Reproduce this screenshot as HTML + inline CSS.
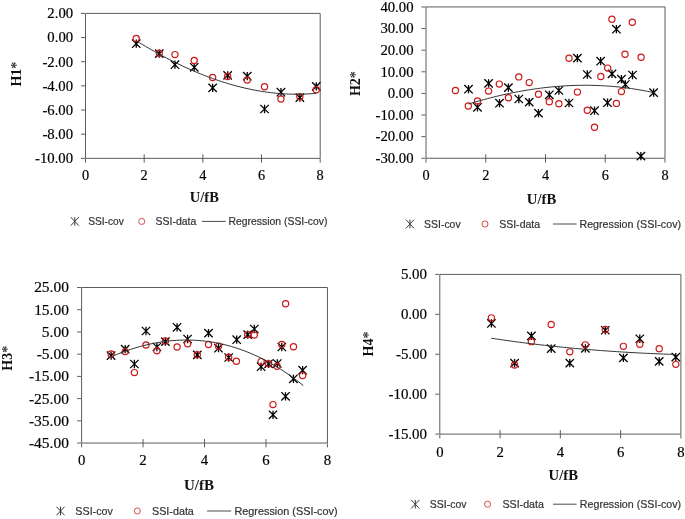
<!DOCTYPE html>
<html><head><meta charset="utf-8"><style>
html,body{margin:0;padding:0;background:#fff;}
body{width:685px;height:519px;overflow:hidden;}
svg{display:block;will-change:transform;}
.tl{font-family:"Liberation Serif",serif;fill:#000;stroke:#000;stroke-width:0.18px;}
.tt{font-family:"Liberation Serif",serif;font-weight:bold;fill:#111;}
.lg{font-family:"Liberation Sans",sans-serif;fill:#333;stroke:#333;stroke-width:0.2px;}
</style></head><body>
<svg width="685" height="519" viewBox="0 0 685 519">
<rect width="685" height="519" fill="#fff"/>
<path d="M85.5,13.4H320.2V158.35H85.5Z" stroke="#5c5c5c" stroke-width="1" fill="none"/>
<path d="M81.0,13.40H85.0" stroke="#5c5c5c" stroke-width="1"/>
<text transform="translate(73.10,18.20) scale(1.03,1)" text-anchor="end" class="tl" style="font-size:14.3px">2.00</text>
<path d="M81.0,37.56H85.0" stroke="#5c5c5c" stroke-width="1"/>
<text transform="translate(73.10,42.36) scale(1.03,1)" text-anchor="end" class="tl" style="font-size:14.3px">0.00</text>
<path d="M81.0,61.72H85.0" stroke="#5c5c5c" stroke-width="1"/>
<text transform="translate(73.10,66.52) scale(1.03,1)" text-anchor="end" class="tl" style="font-size:14.3px">-2.00</text>
<path d="M81.0,85.88H85.0" stroke="#5c5c5c" stroke-width="1"/>
<text transform="translate(73.10,90.67) scale(1.03,1)" text-anchor="end" class="tl" style="font-size:14.3px">-4.00</text>
<path d="M81.0,110.03H85.0" stroke="#5c5c5c" stroke-width="1"/>
<text transform="translate(73.10,114.83) scale(1.03,1)" text-anchor="end" class="tl" style="font-size:14.3px">-6.00</text>
<path d="M81.0,134.19H85.0" stroke="#5c5c5c" stroke-width="1"/>
<text transform="translate(73.10,138.99) scale(1.03,1)" text-anchor="end" class="tl" style="font-size:14.3px">-8.00</text>
<path d="M81.0,158.35H85.0" stroke="#5c5c5c" stroke-width="1"/>
<text transform="translate(73.10,163.15) scale(1.03,1)" text-anchor="end" class="tl" style="font-size:14.3px">-10.00</text>
<path d="M85.50,158.85V162.65" stroke="#5c5c5c" stroke-width="1"/>
<text x="85.50" y="179.85" text-anchor="middle" class="tl" style="font-size:14.3px">0</text>
<path d="M144.18,154.35V162.65" stroke="#5c5c5c" stroke-width="1"/>
<text x="144.18" y="179.85" text-anchor="middle" class="tl" style="font-size:14.3px">2</text>
<path d="M202.85,154.35V162.65" stroke="#5c5c5c" stroke-width="1"/>
<text x="202.85" y="179.85" text-anchor="middle" class="tl" style="font-size:14.3px">4</text>
<path d="M261.52,154.35V162.65" stroke="#5c5c5c" stroke-width="1"/>
<text x="261.52" y="179.85" text-anchor="middle" class="tl" style="font-size:14.3px">6</text>
<path d="M320.20,158.85V162.65" stroke="#5c5c5c" stroke-width="1"/>
<text x="320.20" y="179.85" text-anchor="middle" class="tl" style="font-size:14.3px">8</text>
<text x="204.3" y="201.5" text-anchor="middle" class="tt" style="font-size:14.5px">U/fB</text>
<text transform="translate(21.2,74.1) rotate(-90)" text-anchor="middle" class="tt" style="font-size:14px">H1<tspan style="fill:#333">*</tspan></text>
<path d="M132.05,39.55L140.45,47.85M132.05,47.85L140.45,39.55M136.25,39.55L136.25,47.85" stroke="#000" stroke-width="1.3" fill="none"/>
<path d="M155.05,49.45L163.45,57.75M155.05,57.75L163.45,49.45M159.25,49.45L159.25,57.75" stroke="#000" stroke-width="1.3" fill="none"/>
<path d="M170.75,60.55L179.15,68.85M170.75,68.85L179.15,60.55M174.95,60.55L174.95,68.85" stroke="#000" stroke-width="1.3" fill="none"/>
<path d="M190.05,63.15L198.45,71.45M190.05,71.45L198.45,63.15M194.25,63.15L194.25,71.45" stroke="#000" stroke-width="1.3" fill="none"/>
<path d="M208.45,83.75L216.85,92.05M208.45,92.05L216.85,83.75M212.65,83.75L212.65,92.05" stroke="#000" stroke-width="1.3" fill="none"/>
<path d="M223.45,71.25L231.85,79.55M223.45,79.55L231.85,71.25M227.65,71.25L227.65,79.55" stroke="#000" stroke-width="1.3" fill="none"/>
<path d="M243.05,72.05L251.45,80.35M243.05,80.35L251.45,72.05M247.25,72.05L247.25,80.35" stroke="#000" stroke-width="1.3" fill="none"/>
<path d="M260.35,104.85L268.75,113.15M260.35,113.15L268.75,104.85M264.55,104.85L264.55,113.15" stroke="#000" stroke-width="1.3" fill="none"/>
<path d="M276.75,88.05L285.15,96.35M276.75,96.35L285.15,88.05M280.95,88.05L280.95,96.35" stroke="#000" stroke-width="1.3" fill="none"/>
<path d="M295.65,93.45L304.05,101.75M295.65,101.75L304.05,93.45M299.85,93.45L299.85,101.75" stroke="#000" stroke-width="1.3" fill="none"/>
<path d="M312.05,82.25L320.45,90.55M312.05,90.55L320.45,82.25M316.25,82.25L316.25,90.55" stroke="#000" stroke-width="1.3" fill="none"/>
<circle cx="136.25" cy="38.40" r="3.1" stroke="#cc1a1a" stroke-width="1.2" fill="none"/>
<circle cx="159.25" cy="53.20" r="3.1" stroke="#cc1a1a" stroke-width="1.2" fill="none"/>
<circle cx="174.95" cy="54.60" r="3.1" stroke="#cc1a1a" stroke-width="1.2" fill="none"/>
<circle cx="194.25" cy="60.50" r="3.1" stroke="#cc1a1a" stroke-width="1.2" fill="none"/>
<circle cx="212.65" cy="77.50" r="3.1" stroke="#cc1a1a" stroke-width="1.2" fill="none"/>
<circle cx="227.65" cy="76.50" r="3.1" stroke="#cc1a1a" stroke-width="1.2" fill="none"/>
<circle cx="247.25" cy="80.00" r="3.1" stroke="#cc1a1a" stroke-width="1.2" fill="none"/>
<circle cx="264.55" cy="86.70" r="3.1" stroke="#cc1a1a" stroke-width="1.2" fill="none"/>
<circle cx="280.95" cy="99.00" r="3.1" stroke="#cc1a1a" stroke-width="1.2" fill="none"/>
<circle cx="299.85" cy="96.70" r="3.1" stroke="#cc1a1a" stroke-width="1.2" fill="none"/>
<circle cx="316.25" cy="89.80" r="3.1" stroke="#cc1a1a" stroke-width="1.2" fill="none"/>
<path d="M136.25,40.78L139.30,42.65L142.35,44.49L145.40,46.30L148.45,48.08L151.50,49.83L154.56,51.56L157.61,53.25L160.66,54.92L163.71,56.56L166.76,58.17L169.81,59.74L172.86,61.29L175.91,62.81L178.96,64.29L182.01,65.74L185.06,67.16L188.11,68.55L191.17,69.91L194.22,71.23L197.27,72.52L200.32,73.78L203.37,75.00L206.42,76.19L209.47,77.34L212.52,78.46L215.57,79.54L218.62,80.59L221.67,81.60L224.72,82.57L227.78,83.51L230.83,84.41L233.88,85.28L236.93,86.10L239.98,86.89L243.03,87.64L246.08,88.35L249.13,89.02L252.18,89.66L255.23,90.25L258.28,90.80L261.33,91.32L264.39,91.79L267.44,92.22L270.49,92.61L273.54,92.96L276.59,93.27L279.64,93.53L282.69,93.75L285.74,93.93L288.79,94.07L291.84,94.16L294.89,94.21L297.94,94.21L301.00,94.17L304.05,94.08L307.10,93.95L310.15,93.78L313.20,93.55L316.25,93.28" stroke="#333333" stroke-width="1" fill="none"/>
<path d="M70.70,217.10L78.90,225.70M70.70,225.70L78.90,217.10M74.80,217.10L74.80,225.70" stroke="#3a3a3a" stroke-width="1.0" fill="none"/>
<text x="88.15" y="225.20" class="lg" style="font-size:10.3px" textLength="35.70" lengthAdjust="spacingAndGlyphs">SSI-cov</text>
<circle cx="141.70" cy="221.40" r="3.05" stroke="#d64c4c" stroke-width="1.0" fill="none"/>
<text x="155.55" y="225.20" class="lg" style="font-size:10.3px" textLength="40.80" lengthAdjust="spacingAndGlyphs">SSI-data</text>
<path d="M202.0,221.4H225.7" stroke="#4a4a4a" stroke-width="1"/>
<text x="228.55" y="225.20" class="lg" style="font-size:10.3px" textLength="98.80" lengthAdjust="spacingAndGlyphs">Regression (SSI-cov)</text>
<path d="M426.0,6.95H665.0V158.25H426.0Z" stroke="#5c5c5c" stroke-width="1" fill="none"/>
<path d="M421.5,6.95H425.5" stroke="#5c5c5c" stroke-width="1"/>
<text transform="translate(413.50,11.75) scale(1.03,1)" text-anchor="end" class="tl" style="font-size:14.3px">40.00</text>
<path d="M421.5,28.56H425.5" stroke="#5c5c5c" stroke-width="1"/>
<text transform="translate(413.50,33.36) scale(1.03,1)" text-anchor="end" class="tl" style="font-size:14.3px">30.00</text>
<path d="M421.5,50.18H425.5" stroke="#5c5c5c" stroke-width="1"/>
<text transform="translate(413.50,54.98) scale(1.03,1)" text-anchor="end" class="tl" style="font-size:14.3px">20.00</text>
<path d="M421.5,71.79H425.5" stroke="#5c5c5c" stroke-width="1"/>
<text transform="translate(413.50,76.59) scale(1.03,1)" text-anchor="end" class="tl" style="font-size:14.3px">10.00</text>
<path d="M421.5,93.41H425.5" stroke="#5c5c5c" stroke-width="1"/>
<text transform="translate(413.50,98.21) scale(1.03,1)" text-anchor="end" class="tl" style="font-size:14.3px">0.00</text>
<path d="M421.5,115.02H425.5" stroke="#5c5c5c" stroke-width="1"/>
<text transform="translate(413.50,119.82) scale(1.03,1)" text-anchor="end" class="tl" style="font-size:14.3px">-10.00</text>
<path d="M421.5,136.64H425.5" stroke="#5c5c5c" stroke-width="1"/>
<text transform="translate(413.50,141.44) scale(1.03,1)" text-anchor="end" class="tl" style="font-size:14.3px">-20.00</text>
<path d="M421.5,158.25H425.5" stroke="#5c5c5c" stroke-width="1"/>
<text transform="translate(413.50,163.05) scale(1.03,1)" text-anchor="end" class="tl" style="font-size:14.3px">-30.00</text>
<path d="M426.00,158.75V162.55" stroke="#5c5c5c" stroke-width="1"/>
<text x="426.00" y="179.65" text-anchor="middle" class="tl" style="font-size:14.3px">0</text>
<path d="M485.75,154.25V162.55" stroke="#5c5c5c" stroke-width="1"/>
<text x="485.75" y="179.65" text-anchor="middle" class="tl" style="font-size:14.3px">2</text>
<path d="M545.50,154.25V162.55" stroke="#5c5c5c" stroke-width="1"/>
<text x="545.50" y="179.65" text-anchor="middle" class="tl" style="font-size:14.3px">4</text>
<path d="M605.25,154.25V162.55" stroke="#5c5c5c" stroke-width="1"/>
<text x="605.25" y="179.65" text-anchor="middle" class="tl" style="font-size:14.3px">6</text>
<path d="M665.00,158.75V162.55" stroke="#5c5c5c" stroke-width="1"/>
<text x="665.00" y="179.65" text-anchor="middle" class="tl" style="font-size:14.3px">8</text>
<text x="541.5" y="203.5" text-anchor="middle" class="tt" style="font-size:14.7px">U/fB</text>
<text transform="translate(359.5,83.6) rotate(-90)" text-anchor="middle" class="tt" style="font-size:14px">H2<tspan style="fill:#333">*</tspan></text>
<path d="M464.30,85.05L472.70,93.35M464.30,93.35L472.70,85.05M468.50,85.05L468.50,93.35" stroke="#000" stroke-width="1.3" fill="none"/>
<path d="M473.30,103.15L481.70,111.45M473.30,111.45L481.70,103.15M477.50,103.15L477.50,111.45" stroke="#000" stroke-width="1.3" fill="none"/>
<path d="M484.40,79.25L492.80,87.55M484.40,87.55L492.80,79.25M488.60,79.25L488.60,87.55" stroke="#000" stroke-width="1.3" fill="none"/>
<path d="M495.30,99.05L503.70,107.35M495.30,107.35L503.70,99.05M499.50,99.05L499.50,107.35" stroke="#000" stroke-width="1.3" fill="none"/>
<path d="M504.20,83.45L512.60,91.75M504.20,91.75L512.60,83.45M508.40,83.45L508.40,91.75" stroke="#000" stroke-width="1.3" fill="none"/>
<path d="M514.60,94.85L523.00,103.15M514.60,103.15L523.00,94.85M518.80,94.85L518.80,103.15" stroke="#000" stroke-width="1.3" fill="none"/>
<path d="M525.00,97.95L533.40,106.25M525.00,106.25L533.40,97.95M529.20,97.95L529.20,106.25" stroke="#000" stroke-width="1.3" fill="none"/>
<path d="M534.30,108.95L542.70,117.25M534.30,117.25L542.70,108.95M538.50,108.95L538.50,117.25" stroke="#000" stroke-width="1.3" fill="none"/>
<path d="M545.10,90.65L553.50,98.95M545.10,98.95L553.50,90.65M549.30,90.65L549.30,98.95" stroke="#000" stroke-width="1.3" fill="none"/>
<path d="M554.70,86.35L563.10,94.65M554.70,94.65L563.10,86.35M558.90,86.35L558.90,94.65" stroke="#000" stroke-width="1.3" fill="none"/>
<path d="M564.80,98.85L573.20,107.15M564.80,107.15L573.20,98.85M569.00,98.85L569.00,107.15" stroke="#000" stroke-width="1.3" fill="none"/>
<path d="M573.20,53.95L581.60,62.25M573.20,62.25L581.60,53.95M577.40,53.95L577.40,62.25" stroke="#000" stroke-width="1.3" fill="none"/>
<path d="M583.10,70.35L591.50,78.65M583.10,78.65L591.50,70.35M587.30,70.35L587.30,78.65" stroke="#000" stroke-width="1.3" fill="none"/>
<path d="M590.30,106.55L598.70,114.85M590.30,114.85L598.70,106.55M594.50,106.55L594.50,114.85" stroke="#000" stroke-width="1.3" fill="none"/>
<path d="M596.40,57.05L604.80,65.35M596.40,65.35L604.80,57.05M600.60,57.05L600.60,65.35" stroke="#000" stroke-width="1.3" fill="none"/>
<path d="M603.30,98.55L611.70,106.85M603.30,106.85L611.70,98.55M607.50,98.55L607.50,106.85" stroke="#000" stroke-width="1.3" fill="none"/>
<path d="M607.80,69.75L616.20,78.05M607.80,78.05L616.20,69.75M612.00,69.75L612.00,78.05" stroke="#000" stroke-width="1.3" fill="none"/>
<path d="M612.20,25.05L620.60,33.35M612.20,33.35L620.60,25.05M616.40,25.05L616.40,33.35" stroke="#000" stroke-width="1.3" fill="none"/>
<path d="M617.20,75.05L625.60,83.35M617.20,83.35L625.60,75.05M621.40,75.05L621.40,83.35" stroke="#000" stroke-width="1.3" fill="none"/>
<path d="M621.10,80.35L629.50,88.65M621.10,88.65L629.50,80.35M625.30,80.35L625.30,88.65" stroke="#000" stroke-width="1.3" fill="none"/>
<path d="M628.30,70.85L636.70,79.15M628.30,79.15L636.70,70.85M632.50,70.85L632.50,79.15" stroke="#000" stroke-width="1.3" fill="none"/>
<path d="M636.70,151.95L645.10,160.25M636.70,160.25L645.10,151.95M640.90,151.95L640.90,160.25" stroke="#000" stroke-width="1.3" fill="none"/>
<path d="M649.40,88.45L657.80,96.75M649.40,96.75L657.80,88.45M653.60,88.45L653.60,96.75" stroke="#000" stroke-width="1.3" fill="none"/>
<circle cx="455.40" cy="90.50" r="3.1" stroke="#cc1a1a" stroke-width="1.2" fill="none"/>
<circle cx="468.30" cy="106.00" r="3.1" stroke="#cc1a1a" stroke-width="1.2" fill="none"/>
<circle cx="477.50" cy="101.00" r="3.1" stroke="#cc1a1a" stroke-width="1.2" fill="none"/>
<circle cx="488.60" cy="91.10" r="3.1" stroke="#cc1a1a" stroke-width="1.2" fill="none"/>
<circle cx="499.30" cy="84.10" r="3.1" stroke="#cc1a1a" stroke-width="1.2" fill="none"/>
<circle cx="508.40" cy="97.70" r="3.1" stroke="#cc1a1a" stroke-width="1.2" fill="none"/>
<circle cx="518.80" cy="76.90" r="3.1" stroke="#cc1a1a" stroke-width="1.2" fill="none"/>
<circle cx="529.20" cy="82.60" r="3.1" stroke="#cc1a1a" stroke-width="1.2" fill="none"/>
<circle cx="538.50" cy="94.20" r="3.1" stroke="#cc1a1a" stroke-width="1.2" fill="none"/>
<circle cx="549.30" cy="101.80" r="3.1" stroke="#cc1a1a" stroke-width="1.2" fill="none"/>
<circle cx="558.90" cy="103.80" r="3.1" stroke="#cc1a1a" stroke-width="1.2" fill="none"/>
<circle cx="569.00" cy="58.30" r="3.1" stroke="#cc1a1a" stroke-width="1.2" fill="none"/>
<circle cx="577.40" cy="92.10" r="3.1" stroke="#cc1a1a" stroke-width="1.2" fill="none"/>
<circle cx="587.30" cy="110.20" r="3.1" stroke="#cc1a1a" stroke-width="1.2" fill="none"/>
<circle cx="594.50" cy="127.30" r="3.1" stroke="#cc1a1a" stroke-width="1.2" fill="none"/>
<circle cx="600.80" cy="76.50" r="3.1" stroke="#cc1a1a" stroke-width="1.2" fill="none"/>
<circle cx="607.70" cy="68.10" r="3.1" stroke="#cc1a1a" stroke-width="1.2" fill="none"/>
<circle cx="611.90" cy="19.30" r="3.1" stroke="#cc1a1a" stroke-width="1.2" fill="none"/>
<circle cx="616.40" cy="103.40" r="3.1" stroke="#cc1a1a" stroke-width="1.2" fill="none"/>
<circle cx="621.40" cy="91.60" r="3.1" stroke="#cc1a1a" stroke-width="1.2" fill="none"/>
<circle cx="625.00" cy="54.20" r="3.1" stroke="#cc1a1a" stroke-width="1.2" fill="none"/>
<circle cx="632.30" cy="22.20" r="3.1" stroke="#cc1a1a" stroke-width="1.2" fill="none"/>
<circle cx="641.10" cy="57.30" r="3.1" stroke="#cc1a1a" stroke-width="1.2" fill="none"/>
<path d="M468.50,104.01L471.64,103.06L474.77,102.13L477.91,101.23L481.05,100.34L484.19,99.48L487.32,98.65L490.46,97.83L493.60,97.05L496.74,96.28L499.87,95.54L503.01,94.82L506.15,94.13L509.28,93.46L512.42,92.81L515.56,92.19L518.70,91.60L521.83,91.03L524.97,90.49L528.11,89.97L531.25,89.48L534.38,89.01L537.52,88.57L540.66,88.16L543.79,87.78L546.93,87.42L550.07,87.08L553.21,86.78L556.34,86.50L559.48,86.25L562.62,86.03L565.76,85.84L568.89,85.67L572.03,85.54L575.17,85.43L578.31,85.35L581.44,85.30L584.58,85.28L587.72,85.29L590.85,85.32L593.99,85.39L597.13,85.49L600.27,85.62L603.40,85.78L606.54,85.97L609.68,86.19L612.82,86.44L615.95,86.72L619.09,87.04L622.23,87.38L625.36,87.76L628.50,88.17L631.64,88.62L634.78,89.09L637.91,89.60L641.05,90.14L644.19,90.71L647.33,91.32L650.46,91.96L653.60,92.63" stroke="#333333" stroke-width="1" fill="none"/>
<path d="M405.90,219.70L414.10,228.30M405.90,228.30L414.10,219.70M410.00,219.70L410.00,228.30" stroke="#3a3a3a" stroke-width="1.0" fill="none"/>
<text x="424.05" y="227.80" class="lg" style="font-size:10.5px" textLength="36.60" lengthAdjust="spacingAndGlyphs">SSI-cov</text>
<circle cx="485.00" cy="224.00" r="3.05" stroke="#d64c4c" stroke-width="1.0" fill="none"/>
<text x="499.15" y="227.80" class="lg" style="font-size:10.5px" textLength="41.00" lengthAdjust="spacingAndGlyphs">SSI-data</text>
<path d="M553.0,224.0H576.6" stroke="#4a4a4a" stroke-width="1"/>
<text x="579.45" y="227.80" class="lg" style="font-size:10.5px" textLength="101.60" lengthAdjust="spacingAndGlyphs">Regression (SSI-cov)</text>
<path d="M81.6,287.5H327.45V443.05H81.6Z" stroke="#5c5c5c" stroke-width="1" fill="none"/>
<path d="M77.1,287.50H81.1" stroke="#5c5c5c" stroke-width="1"/>
<text transform="translate(68.90,292.40) scale(1.045,1)" text-anchor="end" class="tl" style="font-size:14.8px">25.00</text>
<path d="M77.1,309.72H81.1" stroke="#5c5c5c" stroke-width="1"/>
<text transform="translate(68.90,314.62) scale(1.045,1)" text-anchor="end" class="tl" style="font-size:14.8px">15.00</text>
<path d="M77.1,331.94H81.1" stroke="#5c5c5c" stroke-width="1"/>
<text transform="translate(68.90,336.84) scale(1.045,1)" text-anchor="end" class="tl" style="font-size:14.8px">5.00</text>
<path d="M77.1,354.16H81.1" stroke="#5c5c5c" stroke-width="1"/>
<text transform="translate(68.90,359.06) scale(1.045,1)" text-anchor="end" class="tl" style="font-size:14.8px">-5.00</text>
<path d="M77.1,376.39H81.1" stroke="#5c5c5c" stroke-width="1"/>
<text transform="translate(68.90,381.29) scale(1.045,1)" text-anchor="end" class="tl" style="font-size:14.8px">-15.00</text>
<path d="M77.1,398.61H81.1" stroke="#5c5c5c" stroke-width="1"/>
<text transform="translate(68.90,403.51) scale(1.045,1)" text-anchor="end" class="tl" style="font-size:14.8px">-25.00</text>
<path d="M77.1,420.83H81.1" stroke="#5c5c5c" stroke-width="1"/>
<text transform="translate(68.90,425.73) scale(1.045,1)" text-anchor="end" class="tl" style="font-size:14.8px">-35.00</text>
<path d="M77.1,443.05H81.1" stroke="#5c5c5c" stroke-width="1"/>
<text transform="translate(68.90,447.95) scale(1.045,1)" text-anchor="end" class="tl" style="font-size:14.8px">-45.00</text>
<path d="M81.60,443.55V447.35" stroke="#5c5c5c" stroke-width="1"/>
<text x="81.60" y="465.35" text-anchor="middle" class="tl" style="font-size:14.8px">0</text>
<path d="M143.06,439.05V447.35" stroke="#5c5c5c" stroke-width="1"/>
<text x="143.06" y="465.35" text-anchor="middle" class="tl" style="font-size:14.8px">2</text>
<path d="M204.52,439.05V447.35" stroke="#5c5c5c" stroke-width="1"/>
<text x="204.52" y="465.35" text-anchor="middle" class="tl" style="font-size:14.8px">4</text>
<path d="M265.99,439.05V447.35" stroke="#5c5c5c" stroke-width="1"/>
<text x="265.99" y="465.35" text-anchor="middle" class="tl" style="font-size:14.8px">6</text>
<path d="M327.45,443.55V447.35" stroke="#5c5c5c" stroke-width="1"/>
<text x="327.45" y="465.35" text-anchor="middle" class="tl" style="font-size:14.8px">8</text>
<text x="199.0" y="489.5" text-anchor="middle" class="tt" style="font-size:15px">U/fB</text>
<text transform="translate(11.8,358.3) rotate(-90)" text-anchor="middle" class="tt" style="font-size:14px">H3<tspan style="fill:#333">*</tspan></text>
<path d="M106.90,351.45L115.30,359.75M106.90,359.75L115.30,351.45M111.10,351.45L111.10,359.75" stroke="#000" stroke-width="1.3" fill="none"/>
<path d="M121.00,344.95L129.40,353.25M121.00,353.25L129.40,344.95M125.20,344.95L125.20,353.25" stroke="#000" stroke-width="1.3" fill="none"/>
<path d="M130.20,359.85L138.60,368.15M130.20,368.15L138.60,359.85M134.40,359.85L134.40,368.15" stroke="#000" stroke-width="1.3" fill="none"/>
<path d="M141.80,326.85L150.20,335.15M141.80,335.15L150.20,326.85M146.00,326.85L146.00,335.15" stroke="#000" stroke-width="1.3" fill="none"/>
<path d="M152.70,342.85L161.10,351.15M152.70,351.15L161.10,342.85M156.90,342.85L156.90,351.15" stroke="#000" stroke-width="1.3" fill="none"/>
<path d="M161.20,337.45L169.60,345.75M161.20,345.75L169.60,337.45M165.40,337.45L165.40,345.75" stroke="#000" stroke-width="1.3" fill="none"/>
<path d="M172.90,323.15L181.30,331.45M172.90,331.45L181.30,323.15M177.10,323.15L177.10,331.45" stroke="#000" stroke-width="1.3" fill="none"/>
<path d="M183.40,334.85L191.80,343.15M183.40,343.15L191.80,334.85M187.60,334.85L187.60,343.15" stroke="#000" stroke-width="1.3" fill="none"/>
<path d="M193.10,350.75L201.50,359.05M193.10,359.05L201.50,350.75M197.30,350.75L197.30,359.05" stroke="#000" stroke-width="1.3" fill="none"/>
<path d="M204.30,328.95L212.70,337.25M204.30,337.25L212.70,328.95M208.50,328.95L208.50,337.25" stroke="#000" stroke-width="1.3" fill="none"/>
<path d="M214.30,344.05L222.70,352.35M214.30,352.35L222.70,344.05M218.50,344.05L218.50,352.35" stroke="#000" stroke-width="1.3" fill="none"/>
<path d="M224.50,353.35L232.90,361.65M224.50,361.65L232.90,353.35M228.70,353.35L228.70,361.65" stroke="#000" stroke-width="1.3" fill="none"/>
<path d="M232.50,335.55L240.90,343.85M232.50,343.85L240.90,335.55M236.70,335.55L236.70,343.85" stroke="#000" stroke-width="1.3" fill="none"/>
<path d="M243.50,330.45L251.90,338.75M243.50,338.75L251.90,330.45M247.70,330.45L247.70,338.75" stroke="#000" stroke-width="1.3" fill="none"/>
<path d="M250.10,324.85L258.50,333.15M250.10,333.15L258.50,324.85M254.30,324.85L254.30,333.15" stroke="#000" stroke-width="1.3" fill="none"/>
<path d="M256.90,362.55L265.30,370.85M256.90,370.85L265.30,362.55M261.10,362.55L261.10,370.85" stroke="#000" stroke-width="1.3" fill="none"/>
<path d="M264.40,359.65L272.80,367.95M264.40,367.95L272.80,359.65M268.60,359.65L268.60,367.95" stroke="#000" stroke-width="1.3" fill="none"/>
<path d="M273.10,359.35L281.50,367.65M273.10,367.65L281.50,359.35M277.30,359.35L277.30,367.65" stroke="#000" stroke-width="1.3" fill="none"/>
<path d="M277.60,342.85L286.00,351.15M277.60,351.15L286.00,342.85M281.80,342.85L281.80,351.15" stroke="#000" stroke-width="1.3" fill="none"/>
<path d="M281.30,392.15L289.70,400.45M281.30,400.45L289.70,392.15M285.50,392.15L285.50,400.45" stroke="#000" stroke-width="1.3" fill="none"/>
<path d="M268.80,410.65L277.20,418.95M268.80,418.95L277.20,410.65M273.00,410.65L273.00,418.95" stroke="#000" stroke-width="1.3" fill="none"/>
<path d="M289.20,374.65L297.60,382.95M289.20,382.95L297.60,374.65M293.40,374.65L293.40,382.95" stroke="#000" stroke-width="1.3" fill="none"/>
<path d="M298.40,366.05L306.80,374.35M298.40,374.35L306.80,366.05M302.60,366.05L302.60,374.35" stroke="#000" stroke-width="1.3" fill="none"/>
<circle cx="111.10" cy="354.00" r="3.1" stroke="#cc1a1a" stroke-width="1.2" fill="none"/>
<circle cx="125.20" cy="351.60" r="3.1" stroke="#cc1a1a" stroke-width="1.2" fill="none"/>
<circle cx="134.40" cy="372.60" r="3.1" stroke="#cc1a1a" stroke-width="1.2" fill="none"/>
<circle cx="146.00" cy="345.00" r="3.1" stroke="#cc1a1a" stroke-width="1.2" fill="none"/>
<circle cx="156.90" cy="350.70" r="3.1" stroke="#cc1a1a" stroke-width="1.2" fill="none"/>
<circle cx="165.40" cy="340.90" r="3.1" stroke="#cc1a1a" stroke-width="1.2" fill="none"/>
<circle cx="177.10" cy="347.00" r="3.1" stroke="#cc1a1a" stroke-width="1.2" fill="none"/>
<circle cx="187.60" cy="343.80" r="3.1" stroke="#cc1a1a" stroke-width="1.2" fill="none"/>
<circle cx="197.30" cy="354.70" r="3.1" stroke="#cc1a1a" stroke-width="1.2" fill="none"/>
<circle cx="208.50" cy="344.50" r="3.1" stroke="#cc1a1a" stroke-width="1.2" fill="none"/>
<circle cx="218.50" cy="346.30" r="3.1" stroke="#cc1a1a" stroke-width="1.2" fill="none"/>
<circle cx="228.70" cy="357.20" r="3.1" stroke="#cc1a1a" stroke-width="1.2" fill="none"/>
<circle cx="236.40" cy="361.20" r="3.1" stroke="#cc1a1a" stroke-width="1.2" fill="none"/>
<circle cx="247.70" cy="334.60" r="3.1" stroke="#cc1a1a" stroke-width="1.2" fill="none"/>
<circle cx="254.30" cy="335.00" r="3.1" stroke="#cc1a1a" stroke-width="1.2" fill="none"/>
<circle cx="261.10" cy="361.60" r="3.1" stroke="#cc1a1a" stroke-width="1.2" fill="none"/>
<circle cx="268.60" cy="363.80" r="3.1" stroke="#cc1a1a" stroke-width="1.2" fill="none"/>
<circle cx="277.10" cy="366.30" r="3.1" stroke="#cc1a1a" stroke-width="1.2" fill="none"/>
<circle cx="281.80" cy="344.40" r="3.1" stroke="#cc1a1a" stroke-width="1.2" fill="none"/>
<circle cx="285.60" cy="303.80" r="3.1" stroke="#cc1a1a" stroke-width="1.2" fill="none"/>
<circle cx="273.00" cy="404.60" r="3.1" stroke="#cc1a1a" stroke-width="1.2" fill="none"/>
<circle cx="293.50" cy="346.80" r="3.1" stroke="#cc1a1a" stroke-width="1.2" fill="none"/>
<circle cx="302.60" cy="375.60" r="3.1" stroke="#cc1a1a" stroke-width="1.2" fill="none"/>
<path d="M111.10,356.85L114.36,355.46L117.62,354.13L120.87,352.85L124.13,351.63L127.39,350.47L130.65,349.37L133.90,348.33L137.16,347.35L140.42,346.43L143.68,345.57L146.93,344.77L150.19,344.03L153.45,343.35L156.71,342.73L159.96,342.18L163.22,341.69L166.48,341.26L169.74,340.90L172.99,340.60L176.25,340.36L179.51,340.19L182.77,340.08L186.03,340.04L189.28,340.06L192.54,340.16L195.80,340.31L199.06,340.54L202.31,340.83L205.57,341.19L208.83,341.62L212.09,342.12L215.34,342.68L218.60,343.32L221.86,344.03L225.12,344.80L228.37,345.65L231.63,346.57L234.89,347.56L238.15,348.62L241.41,349.75L244.66,350.96L247.92,352.24L251.18,353.59L254.44,355.02L257.69,356.52L260.95,358.10L264.21,359.75L267.47,361.47L270.72,363.28L273.98,365.16L277.24,367.11L280.50,369.14L283.75,371.25L287.01,373.44L290.27,375.71L293.53,378.05L296.78,380.48L300.04,382.98L303.30,385.57" stroke="#333333" stroke-width="1" fill="none"/>
<path d="M56.40,506.70L64.60,515.30M56.40,515.30L64.60,506.70M60.50,506.70L60.50,515.30" stroke="#3a3a3a" stroke-width="1.0" fill="none"/>
<text x="75.35" y="515.00" class="lg" style="font-size:10.7px" textLength="37.50" lengthAdjust="spacingAndGlyphs">SSI-cov</text>
<circle cx="137.30" cy="511.00" r="3.05" stroke="#d64c4c" stroke-width="1.0" fill="none"/>
<text x="152.05" y="515.00" class="lg" style="font-size:10.7px" textLength="41.80" lengthAdjust="spacingAndGlyphs">SSI-data</text>
<path d="M207.1,511.0H231.2" stroke="#4a4a4a" stroke-width="1"/>
<text x="234.45" y="515.00" class="lg" style="font-size:10.7px" textLength="103.10" lengthAdjust="spacingAndGlyphs">Regression (SSI-cov)</text>
<path d="M439.8,274.4H680.9V434.1H439.8Z" stroke="#5c5c5c" stroke-width="1" fill="none"/>
<path d="M435.3,274.40H439.3" stroke="#5c5c5c" stroke-width="1"/>
<text transform="translate(427.00,279.30) scale(1.015,1)" text-anchor="end" class="tl" style="font-size:14.7px">5.00</text>
<path d="M435.3,314.32H439.3" stroke="#5c5c5c" stroke-width="1"/>
<text transform="translate(427.00,319.22) scale(1.015,1)" text-anchor="end" class="tl" style="font-size:14.7px">0.00</text>
<path d="M435.3,354.25H439.3" stroke="#5c5c5c" stroke-width="1"/>
<text transform="translate(427.00,359.15) scale(1.015,1)" text-anchor="end" class="tl" style="font-size:14.7px">-5.00</text>
<path d="M435.3,394.18H439.3" stroke="#5c5c5c" stroke-width="1"/>
<text transform="translate(427.00,399.07) scale(1.015,1)" text-anchor="end" class="tl" style="font-size:14.7px">-10.00</text>
<path d="M435.3,434.10H439.3" stroke="#5c5c5c" stroke-width="1"/>
<text transform="translate(427.00,439.00) scale(1.015,1)" text-anchor="end" class="tl" style="font-size:14.7px">-15.00</text>
<path d="M439.80,434.6V438.40000000000003" stroke="#5c5c5c" stroke-width="1"/>
<text x="439.80" y="456.50" text-anchor="middle" class="tl" style="font-size:14.7px">0</text>
<path d="M500.07,430.1V438.40000000000003" stroke="#5c5c5c" stroke-width="1"/>
<text x="500.07" y="456.50" text-anchor="middle" class="tl" style="font-size:14.7px">2</text>
<path d="M560.35,430.1V438.40000000000003" stroke="#5c5c5c" stroke-width="1"/>
<text x="560.35" y="456.50" text-anchor="middle" class="tl" style="font-size:14.7px">4</text>
<path d="M620.62,430.1V438.40000000000003" stroke="#5c5c5c" stroke-width="1"/>
<text x="620.62" y="456.50" text-anchor="middle" class="tl" style="font-size:14.7px">6</text>
<path d="M680.90,434.6V438.40000000000003" stroke="#5c5c5c" stroke-width="1"/>
<text x="680.90" y="456.50" text-anchor="middle" class="tl" style="font-size:14.7px">8</text>
<text x="563.3" y="479.5" text-anchor="middle" class="tt" style="font-size:14.7px">U/fB</text>
<text transform="translate(372.6,344.0) rotate(-90)" text-anchor="middle" class="tt" style="font-size:14px">H4<tspan style="fill:#333">*</tspan></text>
<path d="M487.20,319.30L495.60,327.60M487.20,327.60L495.60,319.30M491.40,319.30L491.40,327.60" stroke="#000" stroke-width="1.3" fill="none"/>
<path d="M510.40,359.00L518.80,367.30M510.40,367.30L518.80,359.00M514.60,359.00L514.60,367.30" stroke="#000" stroke-width="1.3" fill="none"/>
<path d="M527.20,331.70L535.60,340.00M527.20,340.00L535.60,331.70M531.40,331.70L531.40,340.00" stroke="#000" stroke-width="1.3" fill="none"/>
<path d="M547.00,344.40L555.40,352.70M547.00,352.70L555.40,344.40M551.20,344.40L551.20,352.70" stroke="#000" stroke-width="1.3" fill="none"/>
<path d="M565.60,359.00L574.00,367.30M565.60,367.30L574.00,359.00M569.80,359.00L569.80,367.30" stroke="#000" stroke-width="1.3" fill="none"/>
<path d="M581.20,344.20L589.60,352.50M581.20,352.50L589.60,344.20M585.40,344.20L585.40,352.50" stroke="#000" stroke-width="1.3" fill="none"/>
<path d="M601.10,326.10L609.50,334.40M601.10,334.40L609.50,326.10M605.30,326.10L605.30,334.40" stroke="#000" stroke-width="1.3" fill="none"/>
<path d="M619.20,353.70L627.60,362.00M619.20,362.00L627.60,353.70M623.40,353.70L623.40,362.00" stroke="#000" stroke-width="1.3" fill="none"/>
<path d="M635.60,334.60L644.00,342.90M635.60,342.90L644.00,334.60M639.80,334.60L639.80,342.90" stroke="#000" stroke-width="1.3" fill="none"/>
<path d="M655.00,357.20L663.40,365.50M655.00,365.50L663.40,357.20M659.20,357.20L659.20,365.50" stroke="#000" stroke-width="1.3" fill="none"/>
<path d="M671.60,353.00L680.00,361.30M671.60,361.30L680.00,353.00M675.80,353.00L675.80,361.30" stroke="#000" stroke-width="1.3" fill="none"/>
<circle cx="491.40" cy="317.85" r="3.1" stroke="#cc1a1a" stroke-width="1.2" fill="none"/>
<circle cx="514.60" cy="365.05" r="3.1" stroke="#cc1a1a" stroke-width="1.2" fill="none"/>
<circle cx="531.40" cy="341.65" r="3.1" stroke="#cc1a1a" stroke-width="1.2" fill="none"/>
<circle cx="551.20" cy="324.45" r="3.1" stroke="#cc1a1a" stroke-width="1.2" fill="none"/>
<circle cx="569.80" cy="351.85" r="3.1" stroke="#cc1a1a" stroke-width="1.2" fill="none"/>
<circle cx="585.40" cy="344.85" r="3.1" stroke="#cc1a1a" stroke-width="1.2" fill="none"/>
<circle cx="605.30" cy="329.55" r="3.1" stroke="#cc1a1a" stroke-width="1.2" fill="none"/>
<circle cx="623.40" cy="346.35" r="3.1" stroke="#cc1a1a" stroke-width="1.2" fill="none"/>
<circle cx="639.80" cy="344.35" r="3.1" stroke="#cc1a1a" stroke-width="1.2" fill="none"/>
<circle cx="659.20" cy="348.65" r="3.1" stroke="#cc1a1a" stroke-width="1.2" fill="none"/>
<circle cx="675.80" cy="364.35" r="3.1" stroke="#cc1a1a" stroke-width="1.2" fill="none"/>
<path d="M491.40,338.24L494.53,338.71L497.65,339.18L500.78,339.64L503.90,340.09L507.03,340.54L510.15,340.98L513.28,341.41L516.40,341.83L519.53,342.24L522.65,342.65L525.78,343.05L528.91,343.44L532.03,343.83L535.16,344.20L538.28,344.57L541.41,344.94L544.53,345.29L547.66,345.64L550.78,345.98L553.91,346.32L557.03,346.65L560.16,346.97L563.28,347.28L566.41,347.59L569.54,347.89L572.66,348.18L575.79,348.47L578.91,348.75L582.04,349.02L585.16,349.29L588.29,349.55L591.41,349.81L594.54,350.06L597.66,350.30L600.79,350.53L603.92,350.76L607.04,350.99L610.17,351.21L613.29,351.42L616.42,351.62L619.54,351.82L622.67,352.02L625.79,352.21L628.92,352.39L632.04,352.56L635.17,352.74L638.29,352.90L641.42,353.06L644.55,353.22L647.67,353.36L650.80,353.51L653.92,353.65L657.05,353.78L660.17,353.91L663.30,354.03L666.42,354.15L669.55,354.26L672.67,354.37L675.80,354.47" stroke="#333333" stroke-width="1" fill="none"/>
<path d="M411.20,499.90L419.40,508.50M411.20,508.50L419.40,499.90M415.30,499.90L415.30,508.50" stroke="#3a3a3a" stroke-width="1.0" fill="none"/>
<text x="429.75" y="508.00" class="lg" style="font-size:10.5px" textLength="36.80" lengthAdjust="spacingAndGlyphs">SSI-cov</text>
<circle cx="487.60" cy="504.20" r="3.05" stroke="#d64c4c" stroke-width="1.0" fill="none"/>
<text x="502.45" y="508.00" class="lg" style="font-size:10.5px" textLength="41.40" lengthAdjust="spacingAndGlyphs">SSI-data</text>
<path d="M553.0,504.2H576.6" stroke="#4a4a4a" stroke-width="1"/>
<text x="579.85" y="508.00" class="lg" style="font-size:10.5px" textLength="101.20" lengthAdjust="spacingAndGlyphs">Regression (SSI-cov)</text>
</svg>
</body></html>
